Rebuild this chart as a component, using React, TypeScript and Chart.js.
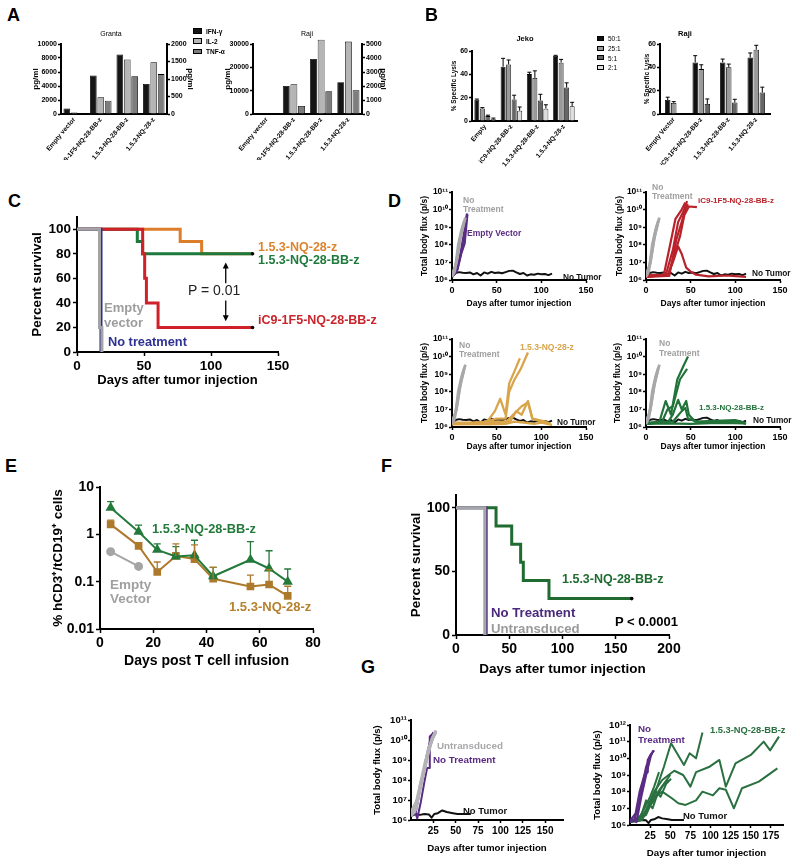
import React, { useEffect, useRef } from 'react';
import { Chart, registerables } from 'chart.js';

Chart.register(...registerables);

const FONT = 'Arial, "Liberation Sans", Helvetica, sans-serif';
Chart.defaults.font.family = FONT;

type Pt = [number, number];

// ================= DATA =================
// ---- Panel A (cytokines, pg/ml) ----
const cytokineCategories = ['Empty vector', 'iC9-1F5-NQ-28-BB-z', '1.5.3-NQ-28-BB-z', '1.5.3-NQ-28-z'];
const grantaIFNg = [800, 5500, 8500, 4300];
const grantaIL2 = [40, 480, 1560, 1480];
const grantaTNFa = [0, 380, 1080, 1140];
const rajiIFNg = [450, 12000, 23600, 13600];
const rajiIL2 = [20, 2120, 5300, 5170];
const rajiTNFa = [0, 570, 1620, 1690];

// ---- Panel B (% specific lysis) ----
const jekoCategories = ['Empty', 'iC9-NQ-28-BB-z', '1.5.3-NQ-28-BB-z', '1.5.3-NQ-28-z'];
const rajiLysisCategories = ['Empty Vector', 'iC9-1F5-NQ-28-BB-z', '1.5.3-NQ-28-BB-z', '1.5.3-NQ-28-z'];
const ratioLabels = ['50:1', '25:1', '5:1', '2:1'];
const jeko50 = [18.2, 46.5, 40.2, 55.7];
const jeko50Err = [0.6, 7.2, 1.6, 0.6];
const jeko25 = [10.7, 48.5, 37.0, 50.0];
const jeko25Err = [0.8, 3.8, 6.0, 2.8];
const jeko5 = [4.2, 18.4, 17.6, 28.7];
const jeko5Err = [0.8, 3.7, 5.3, 4.0];
const jeko2 = [1.5, 8.8, 10.6, 12.6];
const jeko2Err = [1.0, 3.2, 3.3, 3.4];
const raji50 = [12.0, 44.2, 44.2, 48.5];
const raji50Err = [2.4, 5.8, 2.9, 3.8];
const raji25 = [9.5, 38.5, 40.0, 55.1];
const raji25Err = [1.1, 3.7, 2.8, 3.8];
const raji5 = [null, 8.6, 9.8, 18.4];
const raji5Err = [0, 4.3, 2.8, 4.6];

// ---- Panel C (survival, [day, %]) ----
const cEmptyVector: Pt[] = [[0, 100], [16.8, 20], [18.6, 0]];
const cNoTreatment: Pt[] = [[0, 100], [17.9, 0]];
const cNQ28z: Pt[] = [[0, 100], [77, 90], [93, 80], [131, 80]];
const cNQ28BBz: Pt[] = [[0, 100], [45, 90], [49, 80], [131, 80]];
const cIC9: Pt[] = [[0, 100], [49, 80], [50.5, 60], [51.8, 40], [60.5, 20], [131, 20]];

// ---- Panel D (total body flux, [day, p/s]) ----
const dNoTreatment: Pt[][] = [
  [[0, 1.5e6], [3, 3e6], [7, 5e7], [10, 4e8], [15, 3.5e9]],
  [[0, 2e6], [4, 6e6], [7, 1e8], [11, 8e8], [14, 2.5e9]],
  [[0, 1.8e6], [5, 1e7], [9, 2e8], [13, 1.5e9]],
];
const dNoTumor: Pt[] = [
  [0, 1.5e6], [4, 2.5e6], [8, 2.8e6], [12, 2.6e6], [16, 2.5e6], [20, 2.7e6], [24, 2.1e6], [28, 2.5e6],
  [32, 1.8e6], [36, 2.7e6], [40, 2.3e6], [44, 2.9e6], [48, 2.5e6], [52, 2.7e6], [56, 2.4e6], [60, 2.8e6],
  [64, 3.3e6], [68, 3.4e6], [72, 2.7e6], [76, 2.2e6], [80, 2.5e6], [84, 1.8e6], [88, 2.1e6], [92, 2.0e6],
  [96, 2.3e6], [100, 2.1e6], [104, 2.2e6], [108, 1.9e6], [112, 2.3e6],
];
const dEmptyVector: Pt[][] = [
  [[0, 1.5e6], [5, 3e6], [9, 2e7], [13, 3e8], [17, 6e9]],
  [[0, 1.8e6], [6, 4e6], [10, 3e7], [14, 1.2e8], [17, 5e9]],
];
const dIC9: Pt[][] = [
  [[0, 1.5e6], [20, 2e6], [27, 1e8], [33, 3e9], [40, 1e10], [44, 2.5e10]],
  [[0, 2e6], [22, 1.8e6], [30, 5e7], [36, 2e9], [42, 8e9], [46, 3e10]],
  [[0, 1.5e6], [25, 2e6], [32, 3e7], [38, 3e8], [43, 5e9], [48, 1.5e10], [57, 1.4e10]],
  [[0, 1.5e6], [24, 1.7e6], [30, 1e7], [36, 8e7], [40, 3e7], [45, 5e6], [50, 3e6], [56, 2e6], [70, 1.6e6], [90, 1.8e6], [112, 1.5e6]],
  [[0, 1.7e6], [26, 1.7e6], [34, 2e8], [40, 2e9], [44, 1e10], [47, 2e10]],
];
const dNQ28z: Pt[][] = [
  [[0, 1.8e6], [30, 1.6e6], [40, 2.2e6], [48, 8e6], [54, 4e7], [60, 5e6], [64, 3e8], [70, 1.5e9], [76, 8e9]],
  [[0, 1.5e6], [35, 1.8e6], [50, 3e6], [60, 3e6], [64, 1e8], [70, 5e8], [77, 2e9], [85, 1.7e10]],
  [[0, 1.6e6], [50, 2e6], [65, 2e6], [72, 8e6], [78, 5e6], [85, 3e7], [90, 3e6], [100, 2e6], [110, 1.5e6]],
  [[0, 1.5e6], [40, 1.4e6], [60, 1.5e6], [70, 2e6], [80, 1.8e6], [92, 1.5e6], [100, 1.8e6], [112, 1.3e6]],
  [[0, 1.4e6], [30, 1.5e6], [60, 1.8e6], [70, 6e6], [78, 1.5e7], [85, 2.5e7], [90, 3e6], [105, 2e6], [110, 1.5e6]],
];
const dNQ28BBz: Pt[][] = [
  [[0, 1.5e6], [15, 2e6], [22, 3e7], [28, 5e6], [35, 5e8], [42, 3e9], [47, 1e10]],
  [[0, 1.6e6], [18, 2e6], [24, 1e7], [30, 1.5e7], [38, 5e8], [46, 2e9]],
  [[0, 1.5e6], [25, 2e6], [30, 5e6], [36, 3.5e7], [40, 1e7], [45, 3e7], [48, 5e6], [55, 2e6], [100, 2.5e6], [110, 1.8e6]],
  [[0, 1.7e6], [30, 2e6], [40, 8e6], [44, 1.2e7], [47, 3e6], [60, 1.8e6], [100, 2.2e6], [112, 1.5e6]],
  [[0, 1.5e6], [20, 1.6e6], [50, 1.5e6], [80, 1.7e6], [112, 1.6e6]],
];

// ---- Panel E (% hCD3+/tCD19+) ----
const eDays = [4, 14.5, 21.5, 28.5, 35.5, 42.5, 56.5, 63.5, 70.5];
const eNQ28BBz = [3.65, 1.13, 0.47, 0.34, 0.36, 0.13, 0.29, 0.19, 0.10];
const eNQ28BBzErr = [1.25, 0.44, 0.16, 0.21, 0.39, 0.07, 0.41, 0.26, 0.085];
const eNQ28z = [1.62, 0.57, 0.16, 0.35, 0.30, 0.115, 0.079, 0.087, 0.05];
const eNQ28zErr = [0.38, 0.1, 0.10, 0.28, 0.30, 0.085, 0.058, 0.093, 0.03];
const eEmptyDays = [4, 14.5];
const eEmptyVector = [0.43, 0.21];

// ---- Panel F (survival) ----
const fNQ28BBz: Pt[] = [[0, 100], [37.6, 85.7], [52.3, 71.4], [60.7, 57.1], [63.2, 42.9], [87.3, 28.6], [165, 28.6]];
const fUntransduced: Pt[] = [[0, 100], [27, 0]];
const fNoTreatment: Pt[] = [[0, 100], [28.4, 0]];

// ---- Panel G (total body flux) ----
const gUntransduced: Pt[][] = [
  [[0, 2e6], [5, 5e6], [10, 5e7], [15, 3e8], [19, 2e9], [23, 1e10], [28, 3e10]],
  [[0, 1.5e6], [6, 4e6], [11, 8e7], [16, 8e8], [21, 5e9], [27, 2.5e10]],
  [[0, 1.8e6], [4, 2.5e6], [9, 2e7], [14, 2e8], [19, 3e9], [25, 1.5e10]],
  [[0, 2.5e6], [7, 1e7], [13, 1.5e8], [18, 1.5e9], [24, 1.2e10], [28, 2.5e10]],
];
const gNoTreatmentLeft: Pt[][] = [
  [[0, 1.5e6], [4, 3e6], [7, 1.2e6], [11, 8e6], [15, 8e7], [18, 4e8], [21, 4e8], [21, 1.5e10], [24, 2e10]],
  [[0, 1.8e6], [5, 2e6], [10, 3e7], [16, 8e8], [21, 8e9], [25, 2.5e10]],
];
const gNoTumor: Pt[] = [
  [0, 1.5e6], [5, 2e6], [10, 1.8e6], [15, 2e6], [20, 1.9e6], [23, 1.3e6], [26, 2e6], [30, 2.2e6],
  [35, 3e6], [40, 2.5e6], [47, 2.2e6], [52, 2e6], [60, 2e6], [67, 2e6],
];
const gNoTreatmentRight: Pt[][] = [
  [[0, 1.5e6], [5, 2e6], [10, 1e7], [15, 2e8], [20, 3e9], [25, 1.5e10], [30, 3e10]],
  [[0, 1.8e6], [7, 5e6], [12, 1e8], [18, 1e9], [22, 1.5e9], [22, 8e9], [27, 2e10]],
  [[0, 2e6], [8, 1.5e6], [14, 5e7], [20, 1e9], [26, 1.5e10], [29, 3e10]],
];
const gNQ28BBz: Pt[][] = [
  [[0, 1.5e6], [10, 2e6], [20, 4e6], [28, 3e7], [35, 3e8], [42, 3e9], [51, 8e10], [67, 4e9], [74, 2e10], [82, 1e10], [90, 3.5e11]],
  [[0, 1.8e6], [12, 2e6], [20, 8e6], [30, 1e8], [40, 5e8], [48, 1e9], [55, 1.8e9], [66, 1e9], [75, 2e8], [82, 1.5e9], [98, 3e9], [111, 8e9], [119, 2e8], [131, 5e9], [150, 1.6e10], [166, 1e11], [174, 3e10], [185, 2e11]],
  [[0, 1.5e6], [14, 2e6], [22, 1e7], [30, 5e7], [40, 1e8], [52, 4e7], [60, 2e7], [69, 1.6e7], [82, 3e7], [90, 1e8], [103, 6e7], [111, 1.6e8], [119, 1.3e8], [129, 1e7], [139, 1.6e8], [160, 4e8], [183, 2.5e9]],
  [[0, 1.5e6], [10, 2e6], [18, 1e7], [25, 5e7], [30, 2e8], [36, 1.5e9]],
  [[0, 2e6], [12, 2e6], [20, 3e7], [28, 1e7], [35, 1e8], [42, 3e8], [50, 1e9]],
  [[0, 1.6e6], [15, 2e6], [22, 1e7], [30, 3e7], [40, 2e8], [48, 5e8]],
  [[0, 1.5e6], [18, 5e6], [25, 2e7], [32, 1e8], [38, 5e7], [45, 3e8], [51, 6e8]],
];

// ================= HELPERS =================
type Box = { x: number; y: number; r: number; b: number };
type Area = { l: number; t: number; r: number; b: number };

const SUP: Record<string, string> = { '0': '⁰', '1': '¹', '2': '²', '3': '³', '4': '⁴', '5': '⁵', '6': '⁶', '7': '⁷', '8': '⁸', '9': '⁹' };
const pow10Label = (v: number) => '10' + String(Math.round(Math.log10(v))).split('').map((c) => SUP[c]).join('');

const fixW = (w: number) => (s: any) => { s.width = w; s.paddingTop = 0; s.paddingBottom = 0; s.paddingLeft = 0; s.paddingRight = 0; };
const fixH = (h: number) => (s: any) => { s.height = h; s.paddingTop = 0; s.paddingBottom = 0; s.paddingLeft = 0; s.paddingRight = 0; };

function scale(o: any) {
  const { size, tickLen = 4, tickW = 1.5, bw = 2, ticks = {}, grid = {}, title, ...rest } = o;
  return {
    ...rest,
    border: { display: true, color: '#000', width: bw },
    grid: { display: true, drawOnChartArea: false, drawTicks: tickLen > 0, tickLength: tickLen, tickWidth: tickW, tickColor: '#000', color: '#000', ...grid },
    ticks: { color: '#000', padding: 2, font: { family: FONT, size, weight: 'bold' }, ...ticks },
    title: title
      ? { display: true, color: '#000', padding: { top: 0, bottom: 0 }, text: title.text, font: { family: FONT, weight: 'bold', size: title.size } }
      : { display: false },
  };
}

const common = {
  responsive: false,
  maintainAspectRatio: false,
  animation: false,
  devicePixelRatio: 1,
  events: [],
  plugins: { legend: { display: false }, tooltip: { enabled: false }, title: { display: false } },
};

const toXY = (pts: Pt[]) => pts.map(([x, y]) => ({ x, y }));

function lineDS(label: string, pts: Pt[], color: string, width: number, order: number, extra: any = {}) {
  return {
    label, data: toXY(pts), borderColor: color, backgroundColor: color, borderWidth: width,
    pointRadius: 0, fill: false, tension: 0, order, borderJoinStyle: 'round', ...extra,
  };
}

const errorBarPlugin = {
  id: 'errbars',
  afterDatasetsDraw(chart: any) {
    const ctx = chart.ctx;
    chart.data.datasets.forEach((ds: any, i: number) => {
      if (!ds.errorPlus) return;
      const meta = chart.getDatasetMeta(i);
      const ys = chart.scales[meta.yAxisID];
      ctx.save();
      ctx.strokeStyle = ds.errColor || '#000';
      ctx.lineWidth = ds.errWidth || 1;
      meta.data.forEach((el: any, j: number) => {
        const raw = ds.data[j];
        const v = raw == null ? null : typeof raw === 'object' ? raw.y : raw;
        const e = ds.errorPlus[j];
        if (v == null || !e) return;
        const y1 = ys.getPixelForValue(v + e);
        const cap = ds.errCap || 2.5;
        ctx.beginPath();
        ctx.moveTo(el.x, el.y);
        ctx.lineTo(el.x, y1);
        ctx.moveTo(el.x - cap, y1);
        ctx.lineTo(el.x + cap, y1);
        ctx.stroke();
      });
      ctx.restore();
    });
  },
};

const arrowPlugin = {
  id: 'arrows',
  afterDatasetsDraw(chart: any, _a: any, opts: any) {
    const items = (opts && opts.items) || [];
    const { ctx } = chart;
    const xs = chart.scales.x;
    const ys = chart.scales.y;
    ctx.save();
    ctx.strokeStyle = '#000';
    ctx.fillStyle = '#000';
    ctx.lineWidth = 1.3;
    items.forEach((a: any) => {
      const px = xs.getPixelForValue(a.x);
      const y1 = ys.getPixelForValue(a.from);
      const y2 = ys.getPixelForValue(a.to);
      const dir = y2 < y1 ? -1 : 1;
      ctx.beginPath();
      ctx.moveTo(px, y1);
      ctx.lineTo(px, y2 - dir * 4);
      ctx.stroke();
      ctx.beginPath();
      ctx.moveTo(px, y2);
      ctx.lineTo(px - 3, y2 - dir * 6);
      ctx.lineTo(px + 3, y2 - dir * 6);
      ctx.closePath();
      ctx.fill();
    });
    ctx.restore();
  },
};

function barDS(label: string, data: any[], color: string, axis: string, err?: number[], cat = 0.84) {
  return {
    label, data, yAxisID: axis, backgroundColor: color, borderColor: '#000', borderWidth: 0.8,
    barPercentage: 0.9, categoryPercentage: cat, clip: false,
    errorPlus: err, errColor: '#000', errCap: 2, errWidth: 1,
  };
}

function cytokineChart(box: Box, area: Area, lMax: number, lStep: number, rMax: number, rStep: number, ifn: number[], il2: number[], tnf: number[]) {
  return {
    type: 'bar',
    data: {
      labels: cytokineCategories,
      datasets: [barDS('IFN-γ', ifn, '#151515', 'y'), barDS('IL-2', il2, '#b5b5b5', 'y1'), barDS('TNF-α', tnf, '#7d7d7d', 'y1')],
    },
    options: {
      ...common,
      layout: { padding: { left: 0, right: 0, top: area.t - box.y, bottom: 0 } },
      scales: {
        x: scale({ size: 6.5, tickLen: 0, ticks: { minRotation: 50, maxRotation: 50, autoSkip: false, padding: 2 }, afterFit: fixH(box.b - area.b) }),
        y: scale({ size: 7, tickLen: 3, position: 'left', min: 0, max: lMax, ticks: { stepSize: lStep, padding: 1, callback: (v: any) => String(v) }, title: { text: 'pg/ml', size: 8 }, afterFit: fixW(area.l - box.x) }),
        y1: scale({ size: 7, tickLen: 3, position: 'right', min: 0, max: rMax, ticks: { stepSize: rStep, padding: 1, callback: (v: any) => String(v) }, title: { text: 'pg/ml', size: 8 }, afterFit: fixW(box.r - area.r) }),
      },
    },
  };
}

function lysisChart(box: Box, area: Area, cats: string[], datasets: any[]) {
  return {
    type: 'bar',
    data: { labels: cats, datasets },
    options: {
      ...common,
      layout: { padding: { left: 0, right: box.r - area.r, top: area.t - box.y, bottom: 0 } },
      scales: {
        x: scale({ size: 6.5, tickLen: 0, ticks: { minRotation: 50, maxRotation: 50, autoSkip: false, padding: 2 }, afterFit: fixH(box.b - area.b) }),
        y: scale({ size: 7, tickLen: 3, min: 0, max: 60, ticks: { stepSize: 20, padding: 1 }, title: { text: '% Specific Lysis', size: 6.5 }, afterFit: fixW(area.l - box.x) }),
      },
    },
    plugins: [errorBarPlugin],
  };
}

function range(a: number, b: number) { const r: number[] = []; for (let i = a; i <= b; i++) r.push(i); return r; }

function logY(minE: number, maxE: number, size: number, title: string, titleSize: number, w: number) {
  return scale({
    size, tickLen: 3, type: 'logarithmic', min: Math.pow(10, minE), max: Math.pow(10, maxE),
    afterBuildTicks: (s: any) => { s.ticks = range(minE, maxE).map((e) => ({ value: Math.pow(10, e) })); },
    ticks: { padding: 1, callback: (v: any) => pow10Label(Number(v)) },
    title: { text: title, size: titleSize }, afterFit: fixW(w),
  });
}

function linX(min: number, max: number, tickVals: number[], size: number, title: string, titleSize: number, h: number, tickLen = 3) {
  return scale({
    size, tickLen, type: 'linear', min, max,
    afterBuildTicks: (s: any) => { s.ticks = tickVals.map((v) => ({ value: v })); },
    ticks: { padding: 2, callback: (v: any) => String(v) },
    title: { text: title, size: titleSize }, afterFit: fixH(h),
  });
}

function lineChart(box: Box, area: Area, datasets: any[], x: any, y: any, extra: any = {}) {
  return {
    type: 'line',
    data: { datasets },
    options: {
      ...common,
      plugins: { ...common.plugins, ...(extra.pluginOpts || {}) },
      layout: { padding: { left: 0, right: box.r - area.r, top: area.t - box.y, bottom: 0 } },
      scales: { x, y },
    },
    plugins: extra.plugins || [],
  };
}

// ================= COLORS =================
const GRAY = '#a8a8ab';
const PURPLE = '#5b2c83';
const RED_D = '#b8232b';
const GOLD = '#d9a54a';
const GREEN_D = '#22733a';
const BLACK = '#111111';

// ================= LAYOUT =================
const B = {
  aGranta: { x: 31, y: 30, r: 195, b: 160 }, aRaji: { x: 223, y: 30, r: 388, b: 160 },
  bJeko: { x: 450, y: 40, r: 590, b: 170 }, bRaji: { x: 643, y: 34, r: 785, b: 165 },
  c: { x: 29, y: 200, r: 330, b: 388 },
  d1: { x: 420, y: 180, r: 600, b: 309 }, d2: { x: 615, y: 180, r: 794, b: 309 },
  d3: { x: 420, y: 327, r: 600, b: 452 }, d4: { x: 613, y: 327, r: 794, b: 452 },
  e: { x: 50, y: 472, r: 330, b: 670 }, f: { x: 408, y: 478, r: 690, b: 677 },
  g1: { x: 372, y: 706, r: 580, b: 854 }, g2: { x: 592, y: 710, r: 797, b: 859 },
};
const A = {
  aGranta: { l: 61, t: 44, r: 167, b: 114 }, aRaji: { l: 253, t: 44, r: 362, b: 114 },
  bJeko: { l: 472, t: 51, r: 577, b: 121 }, bRaji: { l: 660, t: 44, r: 770, b: 114 },
  c: { l: 77, t: 217, r: 278, b: 352 },
  d1: { l: 452, t: 192, r: 586, b: 280 }, d2: { l: 646, t: 192, r: 780, b: 280 },
  d3: { l: 452, t: 339, r: 586, b: 427 }, d4: { l: 646, t: 339, r: 780, b: 427 },
  e: { l: 100, t: 487, r: 313, b: 629 }, f: { l: 456, t: 495, r: 669, b: 635 },
  g1: { l: 411, t: 720, r: 563, b: 820 }, g2: { l: 630, t: 725, r: 783, b: 825 },
};
const ORDER = ['aGranta', 'aRaji', 'bJeko', 'bRaji', 'c', 'd1', 'd2', 'd3', 'd4', 'e', 'f', 'g1', 'g2'];

function fluxChart(key: string, groups: { lines: Pt[][]; color: string; width: number; order: number }[]) {
  const box = (B as any)[key]; const area = (A as any)[key];
  const ds: any[] = [];
  groups.forEach((g) => g.lines.forEach((l, i) => ds.push(lineDS('g' + i, l, g.color, g.width, g.order))));
  return lineChart(box, area, ds,
    linX(0, 150, [0, 50, 100, 150], 9, 'Days after tumor injection', 8.5, box.b - area.b),
    logY(6, 11, 8.5, 'Total body flux (p/s)', 8.5, area.l - box.x));
}

function buildConfigs(): Record<string, any> {
  const cfg: Record<string, any> = {};
  cfg.aGranta = cytokineChart(B.aGranta, A.aGranta, 10000, 2000, 2000, 500, grantaIFNg, grantaIL2, grantaTNFa);
  cfg.aRaji = cytokineChart(B.aRaji, A.aRaji, 30000, 10000, 5000, 1000, rajiIFNg, rajiIL2, rajiTNFa);
  cfg.bJeko = lysisChart(B.bJeko, A.bJeko, jekoCategories, [
    barDS(ratioLabels[0], jeko50, '#111111', 'y', jeko50Err),
    barDS(ratioLabels[1], jeko25, '#9a9a9a', 'y', jeko25Err),
    barDS(ratioLabels[2], jeko5, '#666666', 'y', jeko5Err),
    barDS(ratioLabels[3], jeko2, '#dedede', 'y', jeko2Err),
  ]);
  cfg.bRaji = lysisChart(B.bRaji, A.bRaji, rajiLysisCategories, [
    barDS(ratioLabels[0], raji50, '#111111', 'y', raji50Err, 0.66),
    barDS(ratioLabels[1], raji25, '#9a9a9a', 'y', raji25Err, 0.66),
    barDS(ratioLabels[2], raji5, '#666666', 'y', raji5Err, 0.66),
  ]);

  const km = (label: string, pts: Pt[], color: string, order: number, endDot = false) =>
    lineDS(label, pts, color, 3, order, {
      stepped: 'before', borderJoinStyle: 'miter',
      pointRadius: (c: any) => (endDot && c.dataIndex === pts.length - 1 ? 1.8 : 0),
      pointBackgroundColor: '#000', pointBorderWidth: 0,
    });
  cfg.c = lineChart(B.c, A.c, [
    km('Empty vector', cEmptyVector, '#a3a3a7', 0),
    km('No treatment', cNoTreatment, '#2b2f86', 1),
    km('iC9-1F5-NQ-28-BB-z', cIC9, '#d0212a', 2, true),
    km('1.5.3-NQ-28-BB-z', cNQ28BBz, '#1d7a3c', 3, true),
    km('1.5.3-NQ-28-z', cNQ28z, '#dc7d2a', 4),
  ],
  linX(0, 150, [0, 50, 100, 150], 13.5, 'Days after tumor injection', 13, B.c.b - A.c.b, 4),
  scale({ size: 13.5, tickLen: 4, min: 0, max: 110, afterBuildTicks: (s: any) => { s.ticks = [0, 20, 40, 60, 80, 100].map((v) => ({ value: v })); }, ticks: { padding: 2 }, title: { text: 'Percent survival', size: 13.5 }, afterFit: fixW(A.c.l - B.c.x) }),
  { plugins: [arrowPlugin], pluginOpts: { arrows: { items: [{ x: 111, from: 56, to: 73 }, { x: 111, from: 42, to: 25 }] } } });

  cfg.d1 = fluxChart('d1', [
    { lines: dNoTreatment, color: GRAY, width: 2.8, order: 0 },
    { lines: dEmptyVector, color: PURPLE, width: 2.5, order: 1 },
    { lines: [dNoTumor], color: BLACK, width: 2, order: 2 },
  ]);
  cfg.d2 = fluxChart('d2', [
    { lines: dNoTreatment, color: GRAY, width: 2.8, order: 0 },
    { lines: dIC9, color: RED_D, width: 2.2, order: 1 },
    { lines: [dNoTumor], color: BLACK, width: 2, order: 2 },
  ]);
  cfg.d3 = fluxChart('d3', [
    { lines: dNoTreatment, color: GRAY, width: 2.8, order: 0 },
    { lines: dNQ28z, color: GOLD, width: 2.3, order: 1 },
    { lines: [dNoTumor], color: BLACK, width: 2, order: 2 },
  ]);
  cfg.d4 = fluxChart('d4', [
    { lines: dNoTreatment, color: GRAY, width: 2.8, order: 0 },
    { lines: dNQ28BBz, color: GREEN_D, width: 2.2, order: 1 },
    { lines: [dNoTumor], color: BLACK, width: 2, order: 2 },
  ]);

  const ePts = (xs: number[], ys: number[]): Pt[] => xs.map((x, i) => [x, ys[i]]);
  cfg.e = lineChart(B.e, A.e, [
    lineDS('1.5.3-NQ-28-BB-z', ePts(eDays, eNQ28BBz), '#237a3b', 2, 0, { pointStyle: 'triangle', pointRadius: 4, pointBackgroundColor: '#237a3b', errorPlus: eNQ28BBzErr, errColor: '#237a3b', errCap: 3.5, errWidth: 1.3 }),
    lineDS('1.5.3-NQ-28-z', ePts(eDays, eNQ28z), '#ad7a2c', 2, 1, { pointStyle: 'rect', pointRadius: 4, pointBackgroundColor: '#ad7a2c', errorPlus: eNQ28zErr, errColor: '#ad7a2c', errCap: 3.5, errWidth: 1.3 }),
    lineDS('Empty Vector', ePts(eEmptyDays, eEmptyVector), '#a5a5a5', 2, 2, { pointStyle: 'circle', pointRadius: 3.5, pointBackgroundColor: '#a5a5a5' }),
  ],
  linX(0, 80, [0, 20, 40, 60, 80], 14, 'Days post T cell infusion', 14, B.e.b - A.e.b, 4),
  scale({ size: 14, tickLen: 4, type: 'logarithmic', min: 0.01, max: 10,
    afterBuildTicks: (s: any) => { s.ticks = [0.01, 0.1, 1, 10].map((v) => ({ value: v })); },
    ticks: { padding: 2, callback: (v: any) => String(Number(v)) },
    title: { text: '% hCD3⁺/tCD19⁺ cells', size: 13.5 }, afterFit: fixW(A.e.l - B.e.x) }),
  { plugins: [errorBarPlugin] });

  cfg.f = lineChart(B.f, A.f, [
    km('No Treatment', fNoTreatment, '#5c3b8a', 2),
    km('Untransduced', fUntransduced, '#a6a6aa', 1),
    km('1.5.3-NQ-28-BB-z', fNQ28BBz, '#1f6b30', 3, true),
  ],
  linX(0, 200, [0, 50, 100, 150, 200], 14, 'Days after tumor injection', 13.5, B.f.b - A.f.b, 4),
  scale({ size: 14, tickLen: 4, min: 0, max: 110, afterBuildTicks: (s: any) => { s.ticks = [0, 50, 100].map((v) => ({ value: v })); }, ticks: { padding: 2 }, title: { text: 'Percent survival', size: 13.5 }, afterFit: fixW(A.f.l - B.f.x) }));

  const g1ds: any[] = [];
  gUntransduced.forEach((l, i) => g1ds.push(lineDS('u' + i, l, '#b3b3b7', 3, 0)));
  gNoTreatmentLeft.forEach((l, i) => g1ds.push(lineDS('p' + i, l, PURPLE, 2, 1)));
  g1ds.push(lineDS('No Tumor', gNoTumor, BLACK, 2, 2));
  cfg.g1 = lineChart(B.g1, A.g1, g1ds,
    linX(0, 170, [25, 50, 75, 100, 125, 150], 10, 'Days after tumor injection', 9.7, B.g1.b - A.g1.b),
    logY(6, 11, 9.5, 'Total body flux (p/s)', 9.5, A.g1.l - B.g1.x));

  const g2ds: any[] = [];
  gNoTreatmentRight.forEach((l, i) => g2ds.push(lineDS('p' + i, l, PURPLE, 2.2, 0)));
  gNQ28BBz.forEach((l, i) => g2ds.push(lineDS('g' + i, l, '#2a7040', 2, 1)));
  g2ds.push(lineDS('No Tumor', gNoTumor, BLACK, 2, 2));
  cfg.g2 = lineChart(B.g2, A.g2, g2ds,
    linX(0, 190, [25, 50, 75, 100, 125, 150, 175], 10, 'Days after tumor injection', 9.7, B.g2.b - A.g2.b),
    logY(6, 12, 9.5, 'Total body flux (p/s)', 9.5, A.g2.l - B.g2.x));
  return cfg;
}

// ================= TEXT =================
type T = { x: number; y: number; t: string; s: number; c?: string; w?: string; center?: boolean };
const TEXTS: T[] = [
  { x: 7, y: 15, t: 'A', s: 18 }, { x: 425, y: 15, t: 'B', s: 18 }, { x: 8, y: 201, t: 'C', s: 18 },
  { x: 388, y: 201, t: 'D', s: 18 }, { x: 5, y: 466, t: 'E', s: 18 }, { x: 381, y: 466, t: 'F', s: 18 },
  { x: 361, y: 667, t: 'G', s: 18 },
  { x: 111, y: 33, t: 'Granta', s: 7, w: 'normal', center: true },
  { x: 307, y: 33, t: 'Raji', s: 7, w: 'normal', center: true },
  { x: 206, y: 30.5, t: 'IFN-γ', s: 6.5 }, { x: 206, y: 40.5, t: 'IL-2', s: 6.5 }, { x: 206, y: 51, t: 'TNF-α', s: 6.5 },
  { x: 525, y: 38, t: 'Jeko', s: 7.5, center: true },
  { x: 685, y: 33, t: 'Raji', s: 7.5, center: true },
  { x: 608, y: 38, t: '50:1', s: 6.5, w: 'normal' }, { x: 608, y: 48, t: '25:1', s: 6.5, w: 'normal' },
  { x: 608, y: 57.5, t: '5:1', s: 6.5, w: 'normal' }, { x: 608, y: 67, t: '2:1', s: 6.5, w: 'normal' },
  { x: 258, y: 247, t: '1.5.3-NQ-28-z', s: 12.5, c: '#dc842e' },
  { x: 258, y: 260, t: '1.5.3-NQ-28-BB-z', s: 12.5, c: '#1f7a3c' },
  { x: 188, y: 290, t: 'P = 0.01', s: 14, w: 'normal', c: '#222' },
  { x: 258, y: 320, t: 'iC9-1F5-NQ-28-BB-z', s: 12.5, c: '#c9252c' },
  { x: 104, y: 307, t: 'Empty', s: 13, c: '#9d9d9d' }, { x: 104, y: 322, t: 'vector', s: 13, c: '#9d9d9d' },
  { x: 108, y: 341, t: 'No treatment', s: 12.8, c: '#2e3192' },
  { x: 463, y: 200, t: 'No', s: 8.5, c: '#a0a0a0' }, { x: 463, y: 209, t: 'Treatment', s: 8.5, c: '#a0a0a0' },
  { x: 467, y: 233, t: 'Empty Vector', s: 8.5, c: PURPLE },
  { x: 563, y: 277, t: 'No  Tumor', s: 8.3, c: BLACK },
  { x: 652, y: 187, t: 'No', s: 8.5, c: '#a0a0a0' }, { x: 652, y: 196, t: 'Treatment', s: 8.5, c: '#a0a0a0' },
  { x: 698, y: 200, t: 'iC9-1F5-NQ-28-BB-z', s: 8, c: RED_D },
  { x: 752, y: 273, t: 'No Tumor', s: 8.3, c: BLACK },
  { x: 459, y: 345, t: 'No', s: 8.5, c: '#a0a0a0' }, { x: 459, y: 354, t: 'Treatment', s: 8.5, c: '#a0a0a0' },
  { x: 520, y: 347, t: '1.5.3-NQ-28-z', s: 8.5, c: GOLD },
  { x: 557, y: 422, t: 'No Tumor', s: 8.3, c: BLACK },
  { x: 659, y: 343, t: 'No', s: 8.5, c: '#a0a0a0' }, { x: 659, y: 353, t: 'Treatment', s: 8.5, c: '#a0a0a0' },
  { x: 699, y: 407, t: '1.5.3-NQ-28-BB-z', s: 8, c: GREEN_D },
  { x: 753, y: 420, t: 'No Tumor', s: 8.3, c: BLACK },
  { x: 152, y: 528, t: '1.5.3-NQ-28-BB-z', s: 12.8, c: '#237a3b' },
  { x: 110, y: 584, t: 'Empty', s: 13.5, c: '#a0a0a0' }, { x: 110, y: 597.5, t: 'Vector', s: 13.5, c: '#a0a0a0' },
  { x: 229, y: 606, t: '1.5.3-NQ-28-z', s: 13, c: '#b5802f' },
  { x: 562, y: 579, t: '1.5.3-NQ-28-BB-z', s: 12.5, c: '#1f6b30' },
  { x: 491, y: 612, t: 'No Treatment', s: 13.2, c: '#4b2a7b' },
  { x: 491, y: 628, t: 'Untransduced', s: 13.2, c: '#9a9a9a' },
  { x: 615, y: 621, t: 'P < 0.0001', s: 13, c: '#000' },
  { x: 437, y: 744.5, t: 'Untransduced', s: 9.8, c: '#a8a8ab' },
  { x: 433, y: 759, t: 'No  Treatment', s: 9.8, c: PURPLE },
  { x: 463, y: 810, t: 'No  Tumor', s: 9.5, c: BLACK },
  { x: 638, y: 727.5, t: 'No', s: 9.8, c: PURPLE }, { x: 638, y: 739, t: 'Treatment', s: 9.8, c: PURPLE },
  { x: 710, y: 730, t: '1.5.3-NQ-28-BB-z', s: 9.3, c: '#2a7040' },
  { x: 683, y: 815, t: 'No  Tumor', s: 9.5, c: BLACK },
];

type Sw = { x: number; y: number; w: number; h: number; c: string };
const SWATCHES: Sw[] = [
  { x: 193, y: 28, w: 9, h: 5.5, c: '#151515' }, { x: 193, y: 38, w: 9, h: 5.5, c: '#b5b5b5' }, { x: 193, y: 48.5, w: 9, h: 5.5, c: '#7d7d7d' },
  { x: 597, y: 35.5, w: 7, h: 5, c: '#111111' }, { x: 597, y: 45.5, w: 7, h: 5, c: '#9a9a9a' },
  { x: 597, y: 55, w: 7, h: 5, c: '#666666' }, { x: 597, y: 64.5, w: 7, h: 5, c: '#dedede' },
];

export default function App() {
  const refs = useRef<(HTMLCanvasElement | null)[]>([]);
  useEffect(() => {
    const cfg = buildConfigs();
    const charts = ORDER.map((k, i) => new Chart(refs.current[i] as HTMLCanvasElement, cfg[k]));
    return () => charts.forEach((c) => c.destroy());
  }, []);
  return (
    <div style={{ position: 'absolute', left: 0, top: 0, width: 800, height: 867, background: '#fff', overflow: 'hidden', fontFamily: FONT }}>
      {ORDER.map((k, i) => {
        const b = (B as any)[k];
        return (
          <canvas key={k} ref={(el) => { refs.current[i] = el; }} width={b.r - b.x} height={b.b - b.y}
            style={{ position: 'absolute', left: b.x, top: b.y, width: b.r - b.x, height: b.b - b.y }} />
        );
      })}
      {SWATCHES.map((s, i) => (
        <div key={'s' + i} style={{ position: 'absolute', left: s.x, top: s.y, width: s.w, height: s.h, background: s.c, border: '0.8px solid #000', boxSizing: 'border-box' }} />
      ))}
      {TEXTS.map((t, i) => (
        <div key={'t' + i} style={{
          position: 'absolute', left: t.x, top: t.y, whiteSpace: 'nowrap', lineHeight: 1,
          transform: t.center ? 'translate(-50%, -50%)' : 'translateY(-50%)',
          font: `${t.w || 'bold'} ${t.s}px ${FONT}`, color: t.c || '#000',
        }}>{t.t}</div>
      ))}
    </div>
  );
}
